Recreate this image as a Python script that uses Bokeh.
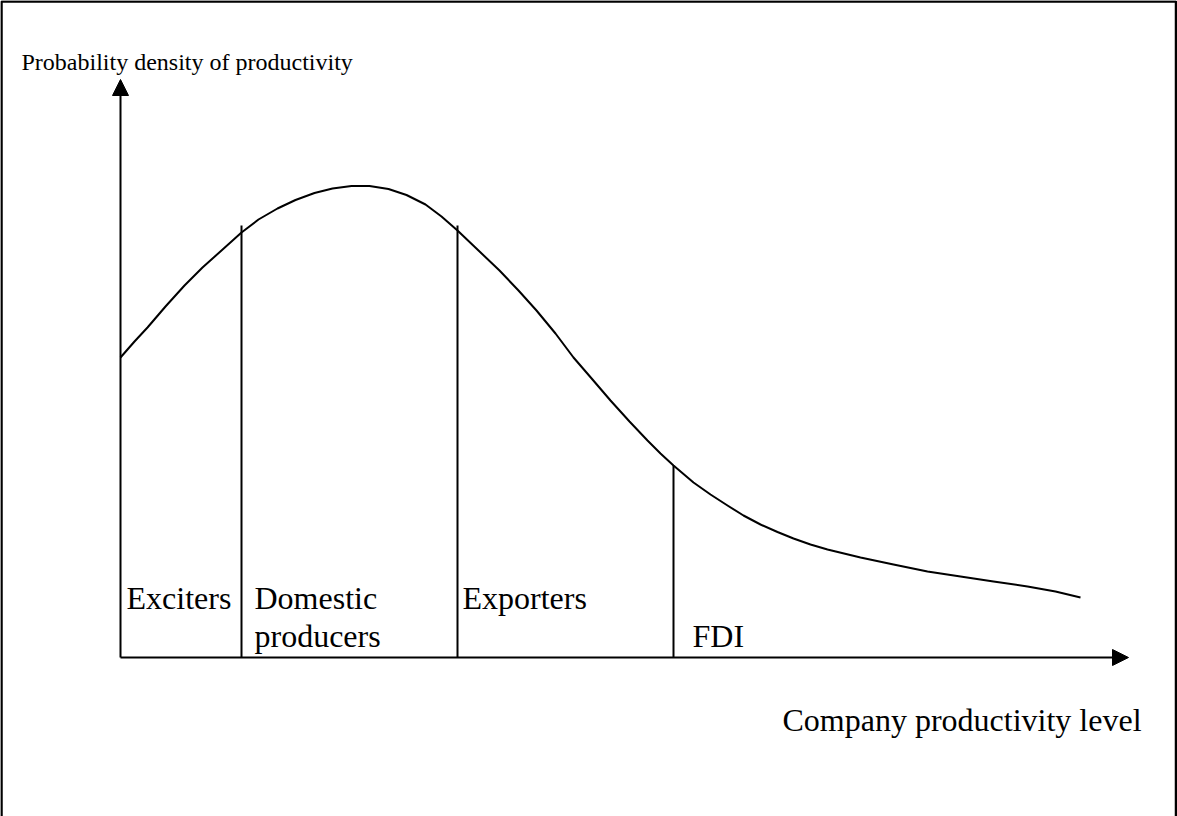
from bokeh.plotting import figure
from bokeh.models import Arrow, NormalHead, Range1d
from bokeh.core.properties import value
from bokeh.embed import file_html
from bokeh.resources import INLINE

# ---- data (productivity level vs. probability density) ----
productivity = [0.00, 0.14, 0.27, 0.45, 0.64, 0.82, 1.01, 1.21, 1.38, 1.57,
                1.75, 1.94, 2.12, 2.31, 2.49, 2.68, 2.86, 3.05, 3.21, 3.37,
                3.58, 3.79, 3.98, 4.16, 4.35, 4.53, 4.72, 4.90, 5.09, 5.27,
                5.40, 5.53, 5.73, 5.90, 6.07, 6.23, 6.40, 6.57, 6.73, 6.90,
                7.07, 7.40, 7.73, 8.07, 8.40, 8.73, 9.07, 9.35, 9.60]
density = [3.00, 3.16, 3.30, 3.51, 3.72, 3.90, 4.07, 4.25, 4.38, 4.49,
           4.575, 4.645, 4.69, 4.715, 4.715, 4.685, 4.625, 4.53, 4.41, 4.27,
           4.07, 3.87, 3.67, 3.47, 3.24, 3.00, 2.78, 2.57, 2.36, 2.17,
           2.04, 1.92, 1.75, 1.63, 1.52, 1.42, 1.33, 1.255, 1.19, 1.13,
           1.08, 1.00, 0.93, 0.86, 0.81, 0.76, 0.71, 0.66, 0.60]

# productivity cut-offs separating the groups and the height of each divider
cutoffs = [1.21, 3.37, 5.53]
cutoff_tops = [4.32, 4.32, 1.92]

group_labels = ["Exciters", "Domestic", "producers", "Exporters", "FDI"]
x_title = "Company productivity level"
y_title = "Probability density of productivity"
x_axis_end = 10.08
y_axis_end = 5.78

FONT = value("Liberation Serif")

p = figure(width=1177, height=816, output_backend="svg", toolbar_location=None,
           x_range=Range1d(-1.20, 10.57), y_range=Range1d(-1.59, 6.57),
           min_border=0, outline_line_color=None)
p.axis.visible = False
p.grid.visible = False
p.background_fill_color = "white"
p.border_fill_color = "white"

# page border (left, top, right)
p.line([-1.19, -1.19, 10.555, 10.555], [-1.59, 6.56, 6.56, -1.59],
       line_color="black", line_width=2.5)

# axes with arrow heads
p.add_layout(Arrow(end=NormalHead(size=16, fill_color="black", line_color="black"),
                   x_start=0, y_start=0, x_end=0, y_end=y_axis_end,
                   line_color="black", line_width=2))
p.add_layout(Arrow(end=NormalHead(size=16, fill_color="black", line_color="black"),
                   x_start=0, y_start=0, x_end=x_axis_end, y_end=0,
                   line_color="black", line_width=2))

# density curve
p.line(productivity, density, line_color="black", line_width=2,
       line_join="round")

# group dividers
p.segment(x0=cutoffs, y0=[0] * len(cutoffs), x1=cutoffs, y1=cutoff_tops,
          line_color="black", line_width=2)

# group labels
label_x = [0.06, 1.34, 1.34, 3.42, 5.72]
label_y = [0.60, 0.60, 0.22, 0.60, 0.22]
p.text(x=label_x, y=label_y, text=group_labels, text_font=FONT,
       text_font_size="32px", text_baseline="alphabetic", text_align="left",
       text_color="black")

# axis titles
p.text(x=[6.62], y=[-0.62], text=[x_title], text_font=FONT,
       text_font_size="32px", text_baseline="alphabetic", text_align="left",
       text_color="black")
p.text(x=[-0.99], y=[5.96], text=[y_title], text_font=FONT,
       text_font_size="24px", text_baseline="alphabetic", text_align="left",
       text_color="black")

open("out.html", "w").write(file_html(p, INLINE))
